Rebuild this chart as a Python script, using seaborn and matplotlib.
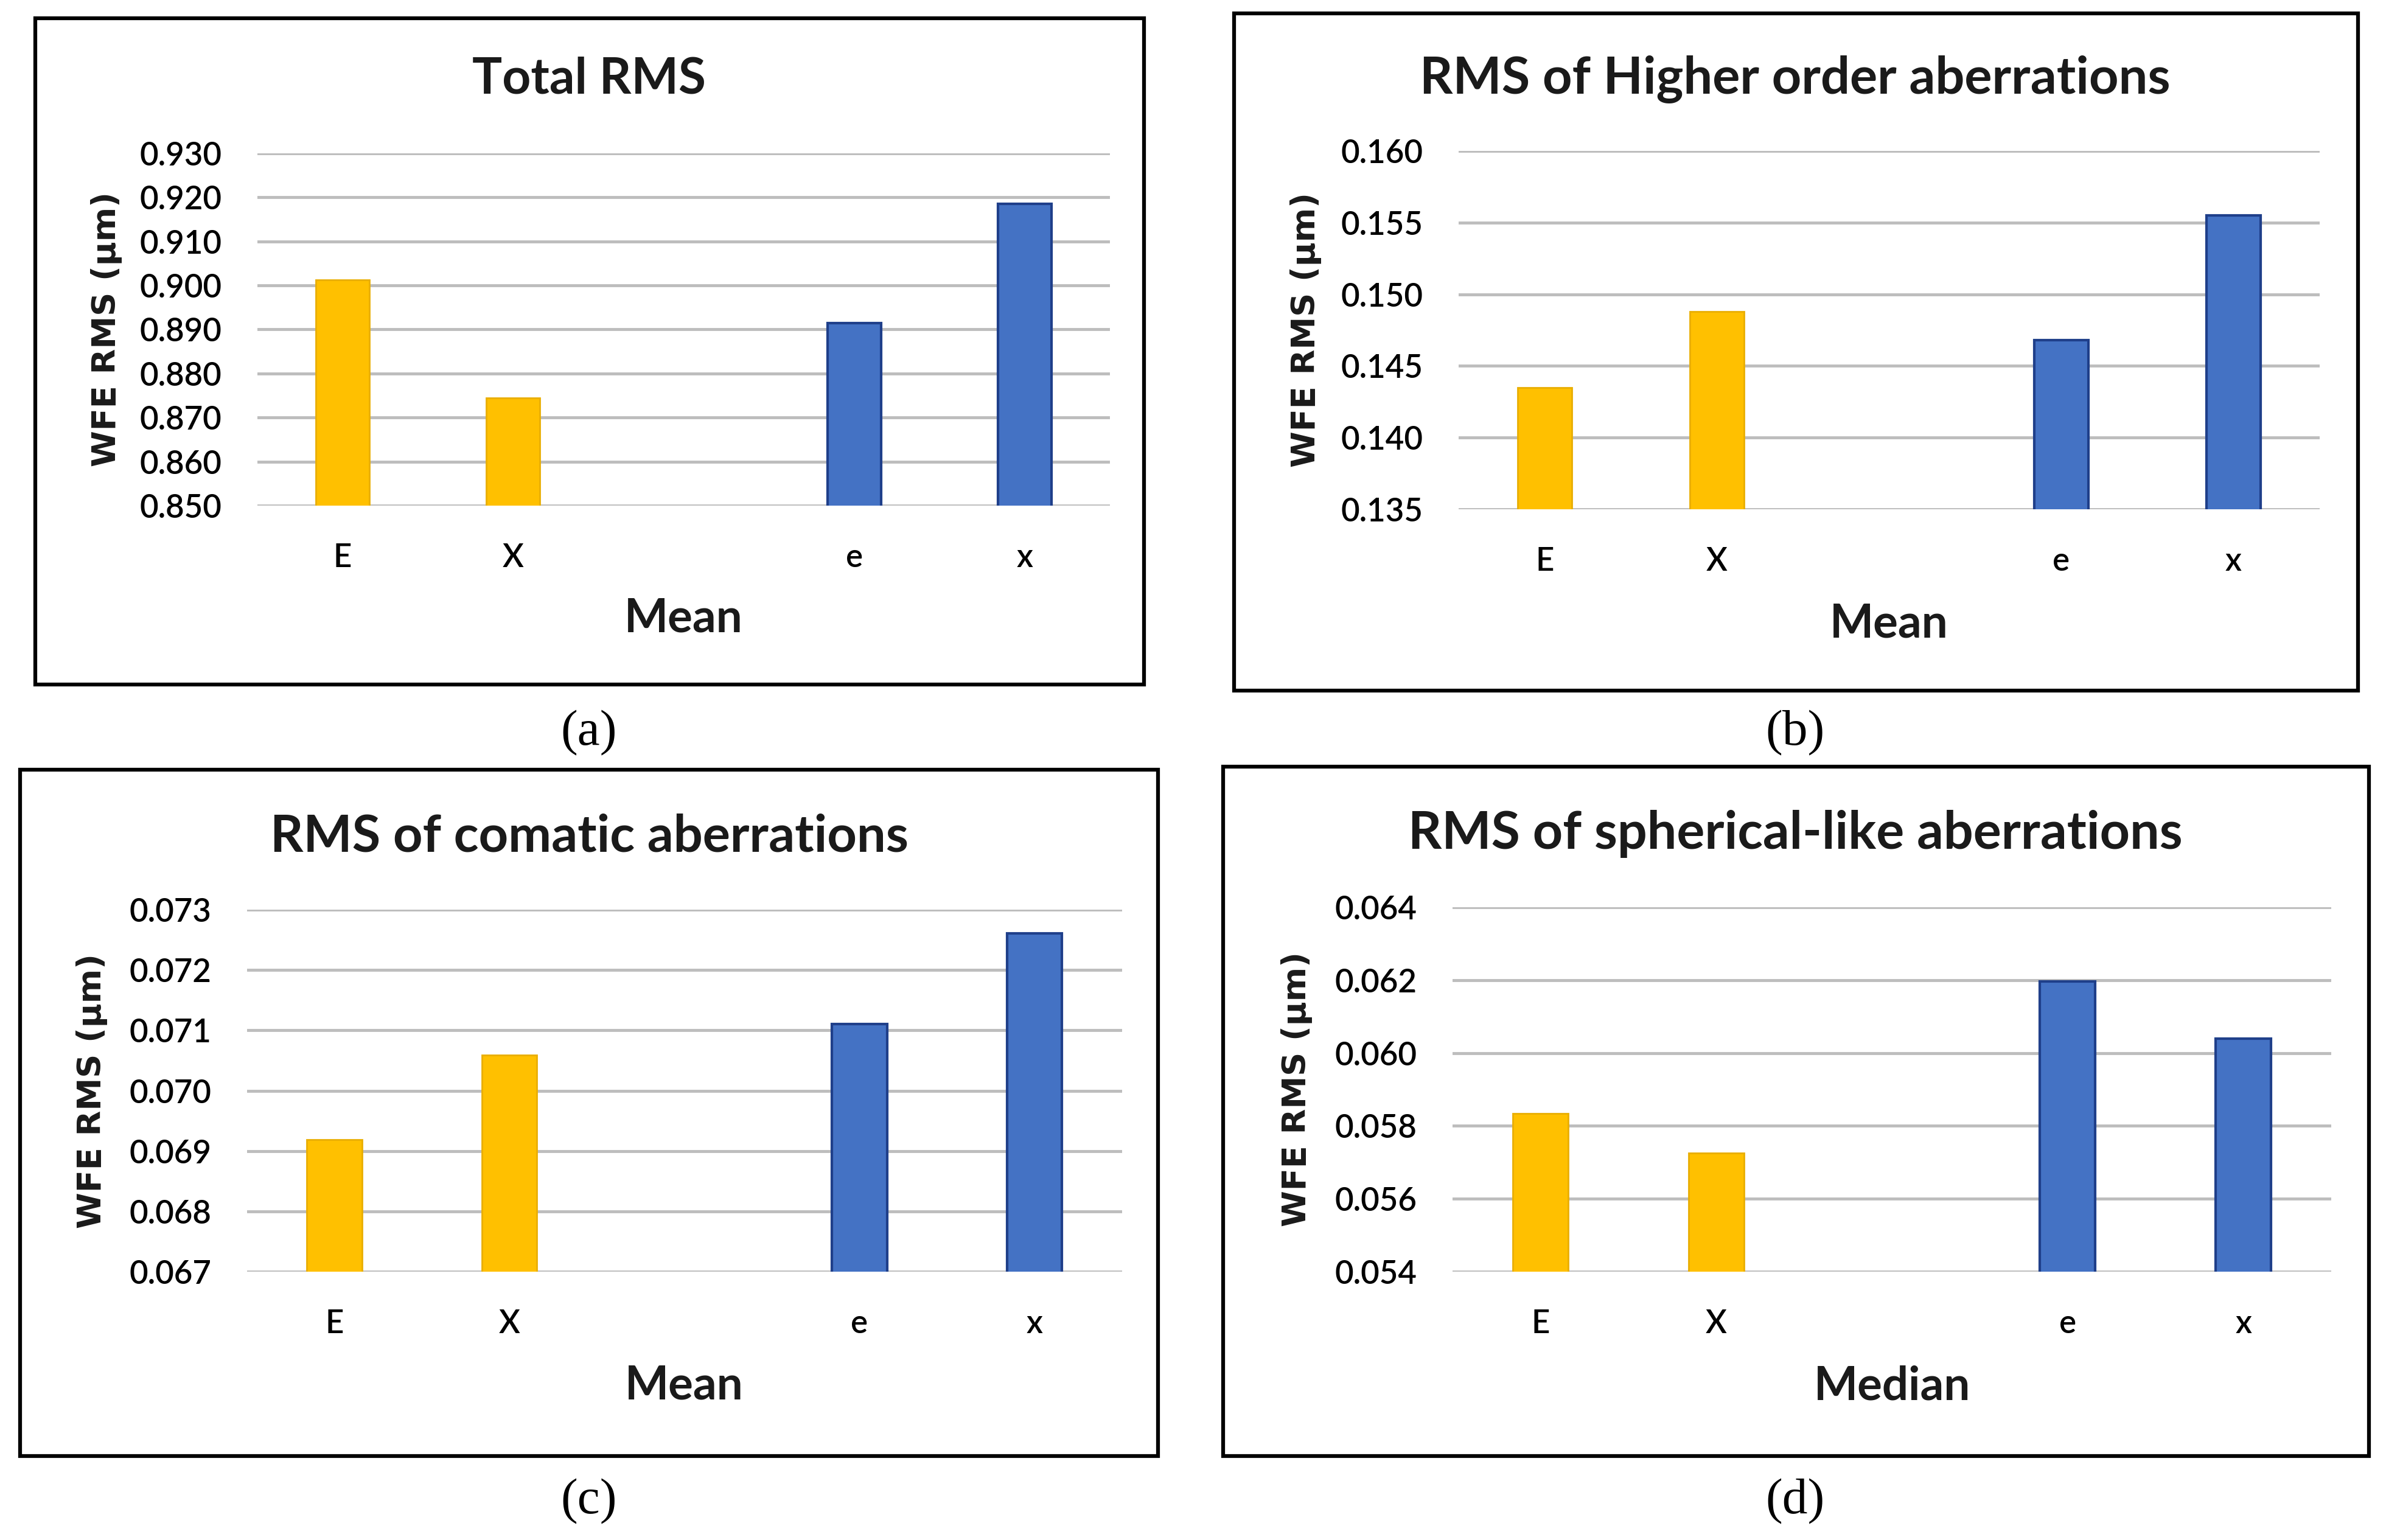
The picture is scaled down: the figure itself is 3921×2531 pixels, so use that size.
import matplotlib
matplotlib.use("Agg")
import matplotlib.pyplot as plt
import seaborn as sns
import pandas as pd
from matplotlib.patches import Rectangle

categories = ["E", "X", " ", "e", "x"]
bar_categories = ["E", "X", "e", "x"]

total_rms = [0.9013, 0.8745, 0.8915, 0.9185]
hoa_rms = [0.1435, 0.1488, 0.1468, 0.1555]
coma_rms = [0.06919, 0.07059, 0.07110, 0.07261]
sph_rms = [0.05834, 0.05725, 0.06196, 0.06039]

titles = ["Total RMS", "RMS of Higher order aberrations",
          "RMS of comatic aberrations", "RMS of spherical-like aberrations"]
xlabels = ["Mean", "Mean", "Mean", "Median"]
captions = ["(a)", "(b)", "(c)", "(d)"]
yticks_list = [
    [0.850, 0.860, 0.870, 0.880, 0.890, 0.900, 0.910, 0.920, 0.930],
    [0.135, 0.140, 0.145, 0.150, 0.155, 0.160],
    [0.067, 0.068, 0.069, 0.070, 0.071, 0.072, 0.073],
    [0.054, 0.056, 0.058, 0.060, 0.062, 0.064],
]

gold = "#FFC000"
gold_edge = "#E9AE00"
blue = "#4472C4"
blue_edge = "#1F3F8A"
palette = {"E": gold, "X": gold, "e": blue, "x": blue}
edges = {"E": gold_edge, "X": gold_edge, "e": blue_edge, "x": blue_edge}

sns.set_theme(style="white")
plt.rcParams['font.family'] = ['Lato', 'DejaVu Sans']

W, H = 3921, 2531
fig = plt.figure(figsize=(W / 100, H / 100), dpi=100)

# axes rectangles [left, bottom, width, height] in figure fraction
axes_rects = [
    [0.1079, 0.6717, 0.3573, 0.2288],
    [0.6113, 0.6693, 0.3609, 0.2327],
    [0.1035, 0.1742, 0.3667, 0.2351],
    [0.6088, 0.1742, 0.3683, 0.2367],
]
box_rects = [
    [0.0148, 0.5555, 0.4647, 0.4326],
    [0.5172, 0.5516, 0.4711, 0.4397],
    [0.0084, 0.0545, 0.4769, 0.4457],
    [0.5126, 0.0545, 0.4802, 0.4476],
]
title_pos = [(968, 130), (2950, 130), (968, 1375), (2950, 1370)]
caption_pos = [(968, 1205), (2950, 1205), (968, 2468), (2950, 2468)]
xlabel_y = [-0.32, -0.32, -0.315, -0.315]
title_sizes = [59, 61, 61, 62]

all_values = [total_rms, hoa_rms, coma_rms, sph_rms]

for i in range(4):
    bx = box_rects[i]
    fig.patches.append(Rectangle((bx[0], bx[1]), bx[2], bx[3], transform=fig.transFigure,
                                 fill=False, edgecolor="black", linewidth=4.5, zorder=0))
    ax = fig.add_axes(axes_rects[i])
    df = pd.DataFrame({"cat": bar_categories, "val": all_values[i]})
    sns.barplot(data=df, x="cat", y="val", order=categories, hue="cat",
                palette=palette, legend=False, width=0.315, ax=ax, saturation=1)
    for patch, c in zip(ax.patches, bar_categories):
        patch.set_edgecolor(edges[c])
        patch.set_linewidth(3 if c in ("e", "x") else 2)
    yt = yticks_list[i]
    ax.set_ylim(yt[0], yt[-1])
    ax.set_yticks(yt)
    ax.set_yticklabels(["{:.3f}".format(v) for v in yt])
    ax.set_xlim(-0.5, 4.5)
    ax.set_axisbelow(True)
    ax.yaxis.grid(True, color="#BDBDBD", linewidth=3.5)
    ax.xaxis.grid(False)
    for s in ax.spines.values():
        s.set_visible(False)
    ax.tick_params(axis="both", length=0, labelsize=38, colors="black")
    ax.tick_params(axis="y", pad=42)
    ax.tick_params(axis="x", pad=44)
    for lbl in ax.get_yticklabels() + ax.get_xticklabels():
        lbl.set_fontweight("semibold")
    ax.set_ylabel("WFE RMS (µm)", fontsize=39, fontweight="bold",
                  family=["DejaVu Sans"], color="#1a1a1a")
    ax.yaxis.set_label_coords(-0.177, 0.5)
    ax.set_xlabel(xlabels[i], fontsize=55, fontweight="bold", color="#1a1a1a")
    ax.xaxis.set_label_coords(0.5, xlabel_y[i])
    ax.xaxis.label.set_va("center")
    ax.yaxis.label.set_va("center")
    tx, ty = title_pos[i]
    fig.text(tx / W, 1 - ty / H, titles[i], ha="center", va="center",
             fontsize=title_sizes[i], fontweight="bold", color="#1a1a1a")
    cx, cy = caption_pos[i]
    fig.text(cx / W, 1 - cy / H, captions[i], ha="center", va="center",
             fontsize=60, family=["Liberation Serif", "DejaVu Serif"], color="black")

fig.savefig("out.png", dpi=100, facecolor="white")
